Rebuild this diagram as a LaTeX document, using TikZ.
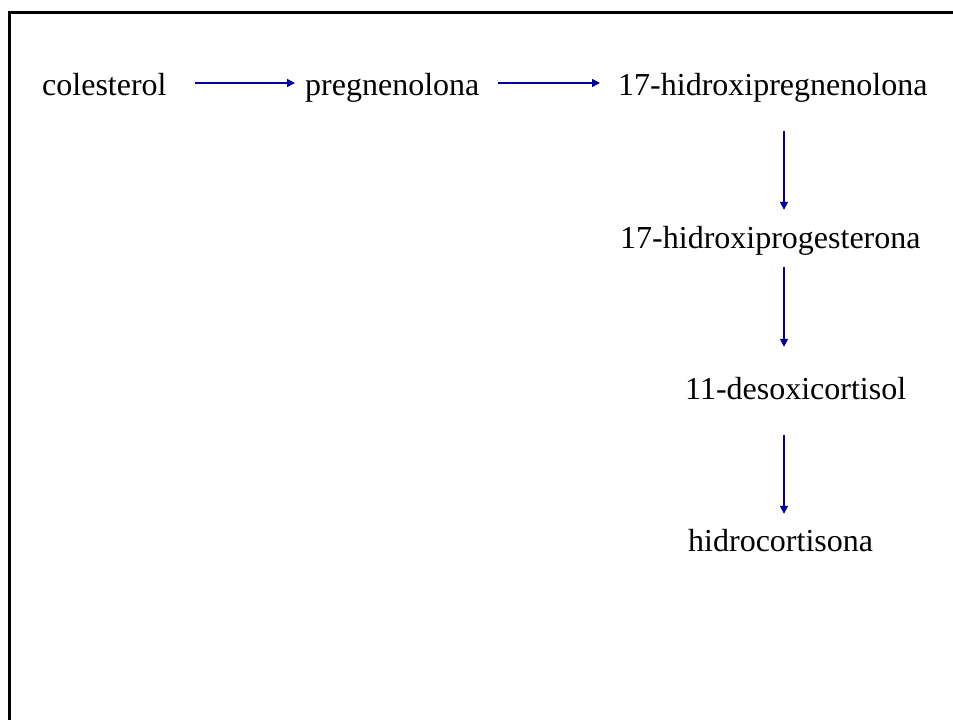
\documentclass[tikz,border=0pt]{standalone}
\usepackage{fontspec}
\setmainfont{Liberation Serif}
\newfontfamily\timesfont{Liberation Serif}
\usetikzlibrary{arrows.meta}
\definecolor{arrowblue}{RGB}{0,0,153}
\tikzset{
  lbl/.style={anchor=base west, inner sep=0pt, text height=22pt, text depth=7pt,
              font=\timesfont\fontsize{32}{38}\selectfont},
  arr/.style={draw=arrowblue, line width=1.5pt, -{Triangle[length=8pt,width=8pt]}}
}
\begin{document}
\begin{tikzpicture}[x=1pt,y=-1pt]
\useasboundingbox (0,0) rectangle (953,720);
\draw[line width=3pt] (9.5,740) -- (9.5,12.5) -- (970,12.5);
\node[lbl] (col) at (42,95) {colesterol};
\node[lbl] (preg) at (305,95) {pregnenolona};
\node[lbl] (hpreg) at (618,95) {17-hidroxipregnenolona};
\node[lbl] (hprog) at (620,248) {17-hidroxiprogesterona};
\node[lbl] (deso) at (685,399) {11-desoxicortisol};
\node[lbl] (hidro) at (688,551) {hidrocortisona};
\coordinate (axis) at (784,0);
\draw[arr, shorten <=28pt, shorten >=10pt] ([yshift=4.5pt]col.east) -- ([yshift=4.5pt]preg.west);
\draw[arr, shorten <=18pt, shorten >=18pt] ([yshift=4.5pt]preg.east) -- ([yshift=4.5pt]hpreg.west);
\draw[arr, shorten <=29pt, shorten >=16pt] (hpreg.south -| axis) -- (hprog.north -| axis);
\draw[arr, shorten <=12pt, shorten >=30pt] (hprog.south -| axis) -- (deso.north -| axis);
\draw[arr, shorten <=29pt, shorten >=15pt] (deso.south -| axis) -- (hidro.north -| axis);
\end{tikzpicture}
\end{document}
